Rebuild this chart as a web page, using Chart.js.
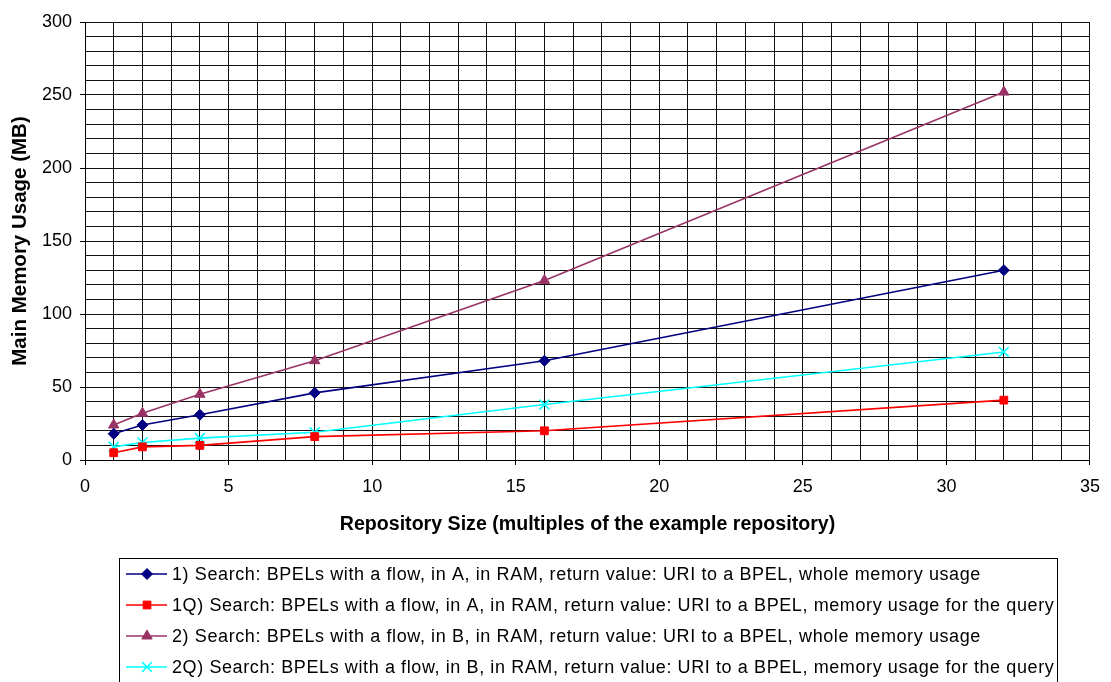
<!DOCTYPE html>
<html>
<head>
<meta charset="utf-8">
<style>
  html, body { margin: 0; padding: 0; background: #fff; }
  #wrap { width: 1111px; height: 682px; position: relative; }
</style>
<script src="https://cdn.jsdelivr.net/npm/chart.js@4/dist/chart.umd.min.js"></script>
</head>
<body>
<div id="wrap"><canvas id="chart"></canvas></div>
<script>
// Repository sizes (multiples of the example repository)
const repoSizes = [1, 2, 4, 8, 16, 32];

// Main memory usage in MB
const search1Whole = [18, 24, 31, 46, 68, 130];
const search1Query = [5, 9, 10, 16, 20, 41];
const search2Whole = [24, 32, 45, 68, 123, 252];
const search2Query = [9, 12, 15, 19, 38, 74];

const seriesLabels = [
  '1) Search: BPELs with a flow, in A, in RAM, return value: URI to a BPEL, whole memory usage',
  '1Q) Search: BPELs with a flow, in A, in RAM, return value: URI to a BPEL, memory usage for the query',
  '2) Search: BPELs with a flow, in B, in RAM, return value: URI to a BPEL, whole memory usage',
  '2Q) Search: BPELs with a flow, in B, in RAM, return value: URI to a BPEL, memory usage for the query'
];

const xTickLabels = [0, 5, 10, 15, 20, 25, 30, 35];
const yTickLabels = [0, 50, 100, 150, 200, 250, 300];

const FONT = '"Liberation Sans", Arial, sans-serif';

function toPoints(values) {
  return repoSizes.map((x, i) => ({ x: x, y: values[i] }));
}

function makeSeries(label, values, color, style, radius) {
  return {
    label: label,
    data: toPoints(values),
    borderColor: color,
    backgroundColor: color,
    borderWidth: 1.6,
    pointStyle: style,
    pointRadius: radius,
    pointHoverRadius: radius,
    pointBorderColor: color,
    pointBackgroundColor: color,
    pointBorderWidth: style === 'crossRot' ? 1.6 : 1,
    tension: 0
  };
}

const datasets = [
  makeSeries(seriesLabels[0], search1Whole, '#000080', 'rectRot', 5.5),
  makeSeries(seriesLabels[1], search1Query, '#FF0000', 'rect', 5.5),
  makeSeries(seriesLabels[2], search2Whole, '#993366', 'triangle', 6),
  makeSeries(seriesLabels[3], search2Query, '#00FFFF', 'crossRot', 7)
];

// Boxed legend below the x-axis title: line sample with marker, then text
const boxedLegend = {
  id: 'boxedLegend',
  afterDraw(chart) {
    const ctx = chart.ctx;
    const boxL = 119.5, boxR = 1057.5, boxT = 558.5, boxB = 700;
    ctx.save();
    ctx.strokeStyle = '#000';
    ctx.lineWidth = 1;
    ctx.strokeRect(boxL, boxT, boxR - boxL, boxB - boxT);
    ctx.font = '18px ' + FONT;
    ctx.letterSpacing = '0.6px';
    ctx.textBaseline = 'middle';
    chart.data.datasets.forEach((ds, i) => {
      const y = 574 + i * 31;
      ctx.strokeStyle = ds.borderColor;
      ctx.lineWidth = ds.borderWidth;
      ctx.beginPath();
      ctx.moveTo(126, y);
      ctx.lineTo(167, y);
      ctx.stroke();
      ctx.fillStyle = ds.pointBackgroundColor;
      ctx.strokeStyle = ds.pointBorderColor;
      ctx.lineWidth = ds.pointBorderWidth;
      Chart.helpers.drawPoint(ctx, {
        pointStyle: ds.pointStyle,
        radius: ds.pointRadius,
        rotation: 0,
        borderWidth: ds.pointBorderWidth
      }, 147, y);
      ctx.fillStyle = '#000';
      ctx.fillText(ds.label, 172, y + 1);
    });
    ctx.restore();
  }
};

new Chart(document.getElementById('chart'), {
  type: 'line',
  data: { datasets: datasets },
  plugins: [boxedLegend],
  options: {
    responsive: true,
    maintainAspectRatio: false,
    animation: false,
    events: [],
    layout: { padding: { left: 0, top: 22, right: 17, bottom: 0 } },
    plugins: {
      legend: { display: false },
      tooltip: { enabled: false }
    },
    scales: {
      x: {
        type: 'linear',
        min: 0,
        max: 35,
        afterFit(scale) { scale.height = 222; },
        border: { color: '#000', width: 1 },
        grid: {
          color: '#111',
          lineWidth: 1,
          tickLength: 5,
          tickColor: (c) => (xTickLabels.includes(c.tick && c.tick.value) ? '#000' : 'rgba(0,0,0,0)')
        },
        ticks: {
          stepSize: 1,
          autoSkip: false,
          maxRotation: 0,
          padding: 11,
          color: '#000',
          font: { family: FONT, size: 18 },
          callback: (v) => (xTickLabels.includes(v) ? String(v) : '')
        },
        title: {
          display: true,
          text: 'Repository Size (multiples of the example repository)',
          color: '#000',
          font: { family: FONT, size: 19.6, weight: 'bold' },
          padding: { top: 0, bottom: 146 }
        }
      },
      y: {
        type: 'linear',
        min: 0,
        max: 300,
        afterFit(scale) { scale.width = 85; },
        border: { color: '#000', width: 1 },
        grid: {
          color: '#111',
          lineWidth: 1,
          tickLength: 5,
          tickColor: (c) => (yTickLabels.includes(c.tick && c.tick.value) ? '#000' : 'rgba(0,0,0,0)')
        },
        ticks: {
          stepSize: 10,
          autoSkip: false,
          padding: 8,
          color: '#000',
          font: { family: FONT, size: 18 },
          callback: (v) => (yTickLabels.includes(v) ? String(v) : '')
        },
        title: {
          display: true,
          text: 'Main Memory Usage (MB)',
          color: '#000',
          font: { family: FONT, size: 20.5, weight: 'bold' },
          padding: { top: 8, bottom: 0 }
        }
      }
    }
  }
});
</script>
</body>
</html>
